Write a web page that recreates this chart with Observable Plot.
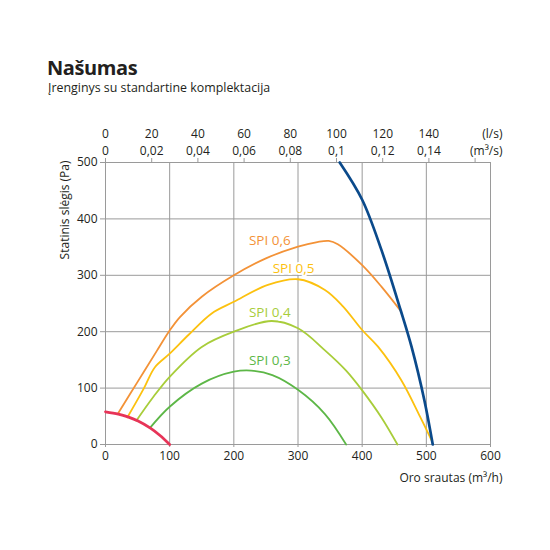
<!DOCTYPE html>
<html>
<head>
<meta charset="utf-8">
<script src="https://cdn.jsdelivr.net/npm/d3@7"></script>
<script src="https://cdn.jsdelivr.net/npm/@observablehq/plot@0.6"></script>
<style>
  body { margin: 0; background: #fff; font-family: "Open Sans", sans-serif; }
  #wrap { position: relative; width: 550px; height: 550px; }
  #title { position: absolute; left: 47px; top: 58px; font-size: 20px; font-weight: 700; color: #231f20; line-height: 20px; letter-spacing: -0.4px; }
  #subtitle { position: absolute; left: 48px; top: 80px; font-size: 12.4px; color: #231f20; line-height: 15px; }
  #chart { position: absolute; left: 0; top: 100px; }
</style>
</head>
<body>
<div id="wrap">
  <div id="title">Našumas</div>
  <div id="subtitle">Įrenginys su standartine komplektacija</div>
  <div id="chart"></div>
</div>
<script>
// Bottom axis (m³/h) and left axis (Pa)
const xTicks = [0, 100, 200, 300, 400, 500, 600];
const yTicks = [0, 100, 200, 300, 400, 500];
// Top axis: l/s and m³/s labels
const lsTicks = [0, 20, 40, 60, 80, 100, 120, 140, 160];
const lsLabels = ["0", "20", "40", "60", "80", "100", "120", "140", ""];
const m3sLabels = ["0", "0,02", "0,04", "0,06", "0,08", "0,1", "0,12", "0,14", ""];

// Curves (x: m³/h, y: Pa)
const redX = [0, 20, 35, 50, 70, 85, 100];
const redY = [58, 54, 49, 42, 29, 16, 0];

const spi06X = [19, 50, 80, 100, 116, 150, 200, 250, 300, 330, 348, 362, 400, 430, 460];
const spi06Y = [54, 111, 166, 202, 226, 262, 300, 330, 351, 359, 361, 355, 318, 280, 237];

const spi05X = [34, 60, 77, 100, 130, 165, 200, 253, 300, 342, 370, 400, 425, 461, 490, 508];
const spi05Y = [48, 100, 137, 161, 195, 232, 253, 283, 293, 274, 245, 203, 173, 114, 50, 8];

const spi04X = [48, 75, 100, 150, 200, 259, 300, 342, 375, 400, 430, 455];
const spi04Y = [42, 85, 120, 173, 200, 219, 206, 167, 131, 96, 48, 0];

const spi03X = [69, 100, 150, 200, 227, 260, 300, 342, 375];
const spi03Y = [29, 67, 108, 129, 131, 123, 97, 54, 0];

const blueX = [365, 400, 430, 460, 477, 497, 510];
const blueY = [500, 434, 345, 238, 173, 78, 0];

const spiLabels = ["SPI 0,6", "SPI 0,5", "SPI 0,4", "SPI 0,3"];
const spiLabelX = [256, 293, 256, 256];
const spiLabelY = [362, 312, 233, 148];
const spiColors = ["#f39237", "#fcc10f", "#a8cd3a", "#5db747"];
const redColor = "#e73458";
const blueColor = "#0b4a8b";

const pts = (xs, ys) => xs.map((x, i) => ({x, y: ys[i]}));
const labels = spiLabels.map((t, i) => ({t, x: spiLabelX[i], y: spiLabelY[i], c: spiColors[i]}));
const topIndex = d => lsTicks.indexOf(Math.round(d / 3.6));

const gridColor = "#9a9a9a";
const textColor = "#231f20";

const chart = Plot.plot({
  width: 550,
  height: 450,
  marginTop: 62,
  marginLeft: 105,
  marginRight: 60,
  marginBottom: 106,
  style: { fontFamily: "Open Sans, sans-serif", fontSize: "12px", color: textColor, background: "white" },
  x: { domain: [0, 600] },
  y: { domain: [0, 500] },
  marks: [
    Plot.gridX(xTicks.slice(1, -1), { stroke: gridColor, strokeOpacity: 1 }),
    Plot.gridY(yTicks.slice(1, -1), { stroke: gridColor, strokeOpacity: 1 }),
    Plot.frame({ stroke: gridColor }),
    Plot.axisX({ anchor: "bottom", ticks: xTicks, tickSize: 3, tickPadding: 4, label: null,
      stroke: gridColor, fill: textColor, fontSize: 12 }),
    Plot.axisY({ anchor: "left", ticks: yTicks, tickSize: 5, tickPadding: 3, label: null,
      stroke: gridColor, fill: textColor, fontSize: 12 }),
    Plot.axisX({ anchor: "top", ticks: lsTicks.map(v => v * 3.6), tickSize: 5, tickPadding: 3, label: null,
      stroke: gridColor, fill: textColor, fontSize: 12,
      tickFormat: d => { const i = topIndex(d); return i < 0 ? "" : m3sLabels[i]; } }),
    Plot.axisX({ anchor: "top", ticks: lsTicks.map(v => v * 3.6), tickSize: 0, tickPadding: 25, label: null,
      stroke: "none", fill: textColor, fontSize: 12,
      tickFormat: d => { const i = topIndex(d); return i < 0 ? "" : lsLabels[i]; } }),
    Plot.text(["(m³/s)"], { frameAnchor: "top-right", dx: 12, dy: -8, textAnchor: "end", lineAnchor: "bottom",
      fill: textColor, fontSize: 12 }),
    Plot.text(["(l/s)"], { frameAnchor: "top-right", dx: 12, dy: -25, textAnchor: "end", lineAnchor: "bottom",
      fill: textColor, fontSize: 12 }),
    Plot.text(["Oro srautas (m³/h)"], { frameAnchor: "bottom-right", dx: 12, dy: 37, textAnchor: "end",
      fill: textColor, fontSize: 12 }),
    Plot.text(["Statinis slėgis (Pa)"], { frameAnchor: "top-left", dx: -45, dy: -2, rotate: -90, textAnchor: "end",
      fill: textColor, fontSize: 12 }),
    Plot.line(pts(spi03X, spi03Y), { x: "x", y: "y", stroke: spiColors[3], strokeWidth: 1.8, curve: "catmull-rom" }),
    Plot.line(pts(spi04X, spi04Y), { x: "x", y: "y", stroke: spiColors[2], strokeWidth: 1.8, curve: "catmull-rom" }),
    Plot.line(pts(spi05X, spi05Y), { x: "x", y: "y", stroke: spiColors[1], strokeWidth: 1.8, curve: "catmull-rom" }),
    Plot.line(pts(spi06X, spi06Y), { x: "x", y: "y", stroke: spiColors[0], strokeWidth: 1.8, curve: "catmull-rom" }),
    Plot.line(pts(redX, redY), { x: "x", y: "y", stroke: redColor, strokeWidth: 2.8, curve: "catmull-rom" }),
    Plot.line(pts(blueX, blueY), { x: "x", y: "y", stroke: blueColor, strokeWidth: 2.7, curve: "catmull-rom" }),
    Plot.text(labels, { x: "x", y: "y", text: "t", fill: "c", fontSize: 13.5, stroke: "white", strokeWidth: 4 })
  ]
});
document.getElementById("chart").appendChild(chart);
</script>
</body>
</html>
